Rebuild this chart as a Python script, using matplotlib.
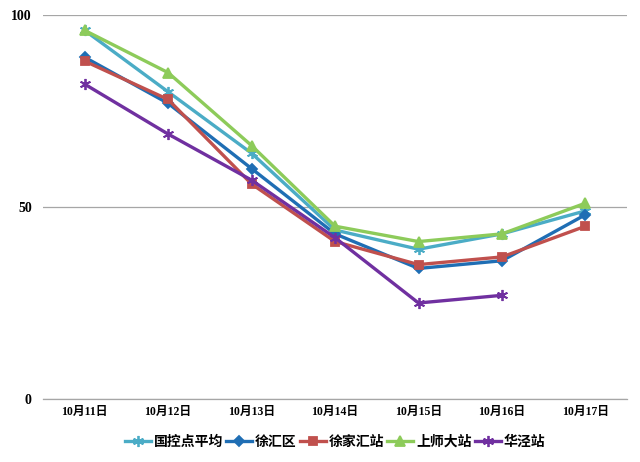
import numpy as np
import matplotlib.pyplot as plt

dates = ['10月11日', '10月12日', '10月13日', '10月14日', '10月15日', '10月16日', '10月17日']
guokong = [96, 80, 64, 44, 39, 43, 49]
xuhui = [89, 77, 60, 43, 34, 36, 48]
xujiahui = [88, 78, 56, 41, 35, 37, 45]
shangshida = [96, 85, 66, 45, 41, 43, 51]
huajing = [82, 69, 57, 42, 25, 27, np.nan]

names = ['国控点平均', '徐汇区', '徐家汇站', '上师大站', '华泾站']
series = [guokong, xuhui, xujiahui, shangshida, huajing]
colors = ['#4BACC6', '#1F6EB4', '#C0504D', '#8DCB5A', '#7030A0']
star = (6, 2, 0)
markers = [star, 'D', 's', '^', star]
msizes = [8, 5, 6, 7, 8]

mixed = ['Liberation Serif', 'Noto Sans CJK SC']
plt.rcParams['font.family'] = ['Noto Sans CJK SC', 'DejaVu Sans']

fig = plt.figure(figsize=(6.4, 4.62), dpi=100)
ax = fig.add_axes([0.067, 0.1364, 0.913, 0.8311])

x = np.arange(len(dates))
for vals, name, c, m, ms in zip(series, names, colors, markers, msizes):
    ax.plot(x, vals, color=c, marker=m, markersize=ms, linewidth=2.4,
            markeredgewidth=1.3, label=name)

ax.set_xlim(-0.5, len(dates) - 0.5)
ax.set_ylim(0, 100)
ax.set_yticks([0, 50, 100])
ax.set_yticklabels(['0', '50', '100'], family='Liberation Serif',
                   fontweight='bold', fontsize=10)
ax.set_xticks(x)
ax.set_xticklabels(dates, family=mixed, fontweight='bold', fontsize=8.5)
ax.tick_params(length=0, pad=8)
ax.tick_params(axis='x', pad=5)
ax.grid(axis='y', color='#a6a6a6', linewidth=0.9)
ax.set_axisbelow(True)
for s in ['left', 'right', 'top']:
    ax.spines[s].set_visible(False)
ax.spines['bottom'].set_color('#a6a6a6')
ax.spines['bottom'].set_linewidth(0.9)

leg = ax.legend(loc='upper center', bbox_to_anchor=(0.5, -0.06), ncol=5,
                frameon=False, handlelength=1.9, handletextpad=0.2,
                columnspacing=0.2, prop={'weight': 'bold', 'size': 10})

fig.savefig('out.png', dpi=100)
